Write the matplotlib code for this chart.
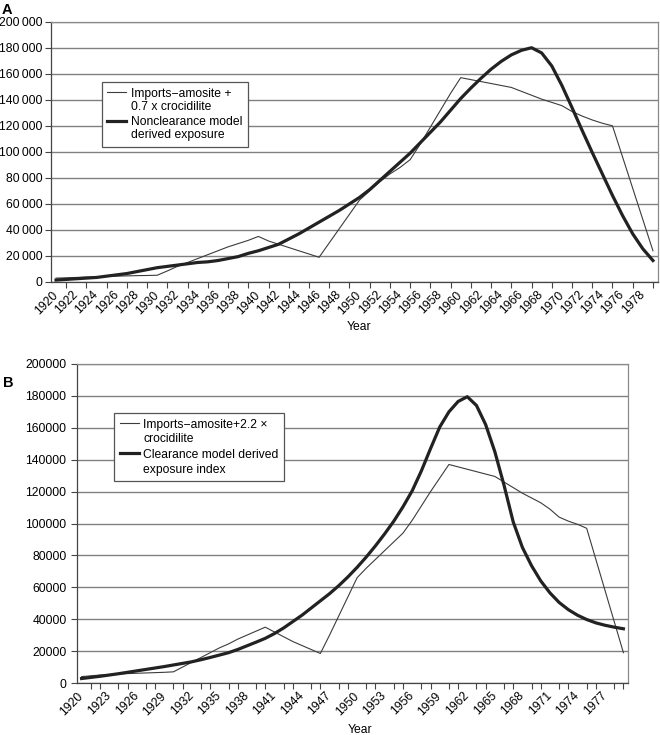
import numpy as np
import matplotlib
matplotlib.use("Agg")
import matplotlib.pyplot as plt
from matplotlib.legend_handler import HandlerLine2D

plt.rcParams['font.family'] = ['Liberation Sans', 'DejaVu Sans']

years = list(range(1920, 1980))

imports_a = [3000, 3200, 3500, 3800, 4000, 4300, 4500, 4700, 4900, 5000,
             5200, 8500, 12000, 15000, 18000, 21000, 24000, 27000, 29500, 32000,
             35000, 31500, 29000, 26500, 24000, 21500, 19000, 30000, 41000, 52000,
             63000, 70000, 77000, 83000, 88000, 94000, 106000, 119000, 132000, 145000,
             157000, 155500, 154000, 152500, 151000, 149500, 146500, 143500, 140500, 138000,
             135500, 131000, 127500, 124500, 122000, 120000, 96000, 72000, 48000, 24000]

model_a = [1500, 2000, 2500, 3000, 3500, 4500, 5500, 6500, 8000, 9500,
           11000, 12000, 13000, 14000, 15000, 15500, 16500, 18000, 19500, 22000,
           24000, 26500, 29000, 33000, 37000, 41500, 46000, 50500, 55000, 60000,
           65000, 71000, 78000, 85000, 92000, 99000, 107000, 115000, 123000, 132000,
           141000, 149000, 156500, 163500, 169500, 174500, 178000, 180000, 176000, 166000,
           151000, 134000, 116500, 99500, 83000, 66500, 51000, 37000, 25500, 16500]

imports_b = [4000, 4500, 5000, 5300, 5600, 5900, 6100, 6300, 6500, 6700,
             7000, 10000, 13000, 16000, 19000, 22000, 24500, 27500, 30000, 32500,
             35000, 32000, 29000, 26000, 23500, 21000, 18500, 30000, 42000, 54000,
             66000, 72000, 77500, 83000, 88500, 94000, 102000, 111000, 120000, 128500,
             137000, 135500, 134000, 132500, 131000, 129500, 126000, 122500, 119000, 116000,
             113000, 109000, 104000, 101500, 99500, 97000, 77500, 58000, 38500, 19000]

model_b = [2800, 3500, 4200, 5000, 5800, 6700, 7600, 8500, 9400, 10300,
           11300, 12300, 13300, 14600, 16000, 17500, 19000, 21000, 23300, 25600,
           28000, 31000, 34500, 38500, 42500, 47000, 51500, 56000, 61000, 66500,
           72500, 79000, 86000, 93500, 101500, 110500, 120500, 133000, 147000, 160500,
           170000, 176500, 179500, 174000, 162000, 145000, 124000, 101000, 85000, 73500,
           64000, 56500, 50500, 46000, 42500, 39800, 37700, 36200, 35000, 34000]

y_ticks = list(range(0, 200001, 20000))

labels_a = ["Imports\u2212amosite +\n0.7 x crocidilite",
            "Nonclearance model\nderived exposure"]
labels_b = ["Imports\u2212amosite+2.2 \u00d7\ncrocidilite",
            "Clearance model derived\nexposure index"]

W, H = 660, 735
FS = 8.7


class TopLineHandler(HandlerLine2D):
    def __init__(self, ls, **kw):
        super().__init__(**kw)
        self.ls = ls

    def create_artists(self, legend, orig_handle, xdescent, ydescent,
                       width, height, fontsize, trans):
        arts = super().create_artists(legend, orig_handle, xdescent, ydescent,
                                      width, height, fontsize, trans)
        for a in arts:
            a.set_ydata(np.asarray(a.get_ydata()) + 0.62 * fontsize * self.ls)
        return arts


fig = plt.figure(figsize=(W / 100, H / 100), dpi=100)


def panel(px, imports, model, step, space, labels, leg_xy, ls, ypad):
    l, t, r, b = px
    ax = fig.add_axes([l / W, 1 - b / H, (r - l) / W, (b - t) / H])
    x = np.arange(len(years))
    ax.set_xlim(-0.5, len(years) - 0.5)
    ax.set_ylim(0, 200000)
    ax.set_yticks(y_ticks)
    sep = "\u2009" if space else ""
    ax.set_yticklabels([f"{v:,}".replace(",", sep) for v in y_ticks])
    ax.yaxis.grid(True, color="#808080", lw=1.0)
    ax.set_axisbelow(True)
    l1, = ax.plot(x, imports, color="#3c3c3c", lw=0.8)
    l2, = ax.plot(x, model, color="#222222", lw=2.3)
    ax.set_xticks(x[::step])
    ax.set_xticklabels([str(y) for y in years[::step]], rotation=45,
                       ha="right", va="center", rotation_mode="anchor")
    ax.set_xticks(x, minor=True)
    ax.tick_params(axis="x", which="major", length=0, pad=8.0, labelsize=FS)
    ax.tick_params(axis="x", which="minor", length=4, color="#444444", width=0.8)
    ax.tick_params(axis="y", length=4, color="#444444", width=0.8, pad=ypad,
                   labelsize=FS)
    for s in ["left", "bottom"]:
        ax.spines[s].set_color("#444444")
        ax.spines[s].set_linewidth(0.9)
    for s in ["top", "right"]:
        ax.spines[s].set_color("#8a8a8a")
        ax.spines[s].set_linewidth(0.9)
    leg = ax.legend([l1, l2], labels, loc="upper left",
                    bbox_to_anchor=(leg_xy[0] / W, 1 - leg_xy[1] / H),
                    bbox_transform=fig.transFigure, borderaxespad=0,
                    fancybox=False, framealpha=1, edgecolor="#555555",
                    fontsize=FS, handlelength=1.6, handletextpad=0.35,
                    borderpad=0.45, labelspacing=0.3,
                    handler_map={matplotlib.lines.Line2D: TopLineHandler(ls)})
    leg.get_frame().set_linewidth(0.9)
    for tx in leg.get_texts():
        tx.set_linespacing(ls)
    return ax


panel((51, 21.7, 658, 282), imports_a, model_a, 2, True, labels_a,
      (101.7, 82.3), 1.1, 2.2)
panel((77, 364, 628, 683), imports_b, model_b, 3, False, labels_b,
      (114.3, 413.3), 1.3, 3.6)

fig.text(2 / W, 1 - 3 / H, "A", fontsize=10.5, fontweight="bold", va="top", ha="left")
fig.text(3 / W, 1 - 376 / H, "B", fontsize=10.5, fontweight="bold", va="top", ha="left")
fig.text(359 / W, 1 - 327 / H, "Year", fontsize=FS, ha="center", va="center")
fig.text(360 / W, 1 - 730 / H, "Year", fontsize=FS, ha="center", va="center")

fig.savefig("out.png", dpi=100, facecolor="white")
